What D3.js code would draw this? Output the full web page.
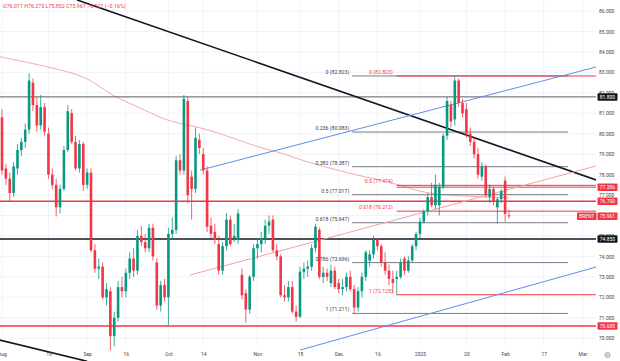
<!DOCTYPE html>
<html>
<head>
<meta charset="utf-8">
<script src="https://cdn.jsdelivr.net/npm/d3@7/dist/d3.min.js"></script>
<style>
  body { margin: 0; background: #fff; }
  svg { display: block; }
  text { font-family: Roboto, "Liberation Sans", sans-serif; }
</style>
</head>
<body>
<svg id="chart" width="620" height="361"></svg>
<script>
// daily candles, one per trading day from 1 Aug 2024: [open, high, low, close]
const candles = [
  // Aug
  [80.8, 81.2, 78.0, 78.2], [78.3, 78.5, 77.5, 77.8], [77.8, 78.1, 76.7, 77.1], [77.1, 78.6, 76.9, 78.4],
  [78.3, 79.5, 78.0, 79.2], [79.2, 79.8, 78.9, 79.6], [79.6, 80.5, 79.3, 80.2], [80.2, 82.95, 80.0, 82.6],
  [82.5, 82.7, 81.1, 81.4], [81.4, 81.8, 80.1, 80.4], [80.4, 81.9, 80.2, 81.3], [81.3, 81.5, 79.9, 80.1],
  [80.0, 80.3, 77.8, 78.0], [78.0, 78.3, 77.3, 77.5], [77.5, 77.8, 75.95, 76.4], [76.4, 77.5, 76.1, 77.3],
  [77.3, 79.4, 77.2, 79.2], [79.2, 81.4, 79.1, 81.1], [81.0, 81.2, 79.5, 79.6], [79.6, 79.9, 78.2, 78.3],
  [78.3, 79.7, 78.1, 79.5], [79.5, 79.6, 77.2, 77.5],
  // Sep
  [77.5, 78.3, 77.3, 78.1], [78.1, 78.3, 74.2, 74.3], [74.3, 74.6, 73.2, 73.4], [73.4, 73.9, 72.9, 73.5],
  [73.5, 73.7, 71.9, 72.0], [72.0, 72.7, 71.6, 72.4], [72.3, 72.5, 69.4, 70.1], [70.1, 71.3, 69.6, 71.0],
  [71.0, 72.8, 70.8, 72.5], [72.5, 73.0, 72.0, 72.3], [72.3, 73.4, 72.0, 73.2], [73.2, 74.2, 72.9, 73.9],
  [73.9, 74.4, 73.0, 73.3], [73.3, 75.3, 73.1, 75.0], [75.0, 75.5, 74.5, 74.7], [74.7, 75.1, 74.2, 74.4],
  [74.4, 75.6, 74.2, 75.4], [75.4, 75.6, 73.8, 74.0], [73.7, 73.9, 71.4, 71.6], [71.6, 72.8, 71.3, 72.6],
  [72.6, 72.9, 71.8, 72.0],
  // Oct
  [72.0, 75.4, 70.65, 75.1], [75.1, 75.9, 74.8, 75.3], [75.3, 78.9, 75.1, 78.7], [78.7, 79.0, 78.0, 78.2],
  [78.2, 81.9, 78.0, 81.7], [81.6, 81.8, 76.6, 77.0], [77.9, 78.2, 75.8, 77.3], [77.3, 80.3, 77.1, 79.8],
  [79.7, 80.0, 79.0, 79.3], [79.0, 79.3, 78.0, 78.2], [78.2, 78.4, 75.2, 75.45], [75.5, 75.9, 74.9, 75.1],
  [75.2, 75.6, 74.6, 74.8], [74.6, 75.0, 73.1, 73.3], [73.3, 74.7, 73.1, 74.5], [74.5, 76.1, 74.3, 75.8],
  [75.8, 76.0, 74.5, 74.6], [74.9, 75.6, 74.7, 75.0], [74.8, 76.3, 74.6, 76.1], [73.1, 73.4, 71.9, 72.1],
  [72.2, 72.4, 70.75, 71.4], [71.4, 73.1, 71.2, 73.0], [73.0, 74.6, 72.8, 74.4],
  // Nov
  [74.4, 74.9, 73.9, 74.6], [74.6, 75.2, 74.2, 74.9], [74.9, 75.8, 74.6, 75.5], [75.5, 76.0, 75.1, 75.7],
  [75.8, 76.0, 74.2, 74.3], [74.3, 74.6, 73.8, 74.0], [74.0, 74.1, 72.0, 72.1], [72.1, 72.6, 71.8, 72.0],
  [72.0, 72.8, 71.8, 72.5], [72.5, 72.8, 71.2, 71.3], [71.3, 71.6, 70.8, 71.05], [71.05, 73.5, 71.0, 73.25],
  [73.25, 73.7, 72.9, 73.4], [73.4, 73.8, 73.0, 73.5], [73.5, 74.6, 73.3, 74.4], [74.4, 75.6, 74.2, 75.45],
  [75.3, 75.4, 72.9, 73.0], [73.0, 73.5, 72.7, 73.2], [73.2, 73.4, 72.8, 73.0], [72.7, 73.6, 72.5, 73.3],
  [73.3, 73.5, 72.4, 72.5],
  // Dec
  [72.7, 72.9, 72.2, 72.4], [72.4, 72.9, 72.1, 72.5], [72.5, 73.2, 72.3, 73.0], [73.0, 73.3, 72.3, 72.4],
  [72.4, 72.6, 71.211, 71.5], [71.5, 72.5, 71.3, 72.3], [72.3, 73.2, 72.0, 73.0], [73.0, 74.3, 72.8, 74.2],
  [73.8, 74.3, 73.5, 74.1], [74.1, 75.0, 73.9, 74.8], [74.8, 74.9, 74.3, 74.5], [74.5, 74.6, 73.5, 73.7],
  [73.7, 74.2, 73.1, 73.3], [73.3, 73.6, 72.6, 72.9], [72.9, 73.3, 72.2, 72.7], [72.9, 73.3, 72.125, 73.0],
  [73.0, 73.9, 72.9, 73.7], [73.9, 74.0, 73.1, 73.3], [73.3, 74.0, 73.2, 73.8], [73.8, 74.6, 73.7, 74.5],
  [74.5, 75.2, 74.3, 75.1],
  // Jan
  [75.1, 75.9, 74.9, 75.7], [75.7, 76.3, 75.6, 76.2], [76.2, 77.1, 76.0, 76.9], [76.9, 77.6, 76.4, 76.5],
  [76.5, 78.0, 76.3, 77.5], [76.5, 77.6, 76.0, 77.4], [77.4, 80.0, 77.3, 79.9], [79.9, 81.8, 79.7, 81.6],
  [81.4, 81.6, 80.3, 80.6], [80.7, 82.823, 80.4, 82.6], [82.6, 82.7, 81.3, 81.5], [81.5, 81.7, 80.8, 81.0],
  [81.2, 81.5, 79.8, 80.0], [80.0, 80.3, 79.4, 79.6], [79.6, 79.8, 78.8, 79.0], [79.0, 79.3, 77.8, 78.0],
  [77.9, 78.6, 77.7, 78.4], [78.4, 78.5, 76.9, 77.0], [76.9, 77.5, 76.6, 77.3], [77.3, 77.4, 76.5, 76.7],
  [76.4, 76.9, 75.6, 76.8], [76.8, 77.3, 76.6, 77.2],
  // Feb
  [77.7, 77.9, 75.7, 76.08], [76.011, 76.273, 75.852, 75.961]
];

// time axis labels: [trading-day index, label]
const timeTicks = [
  [0, "Aug"], [12, "19"], [22, "Sep"], [32, "16"], [43, "Oct"], [52, "14"], [66, "Nov"], [77, "18"],
  [87, "Dec"], [97, "16"], [108, "2025"], [120, "20"], [130, "Feb"], [140, "17"], [150, "Mar"]
];

// fibonacci retracements: [ratio, level]
const grayFib = [[0, 82.823], [0.236, 80.083], [0.382, 78.387], [0.5, 77.017], [0.618, 75.647], [0.786, 73.696], [1, 71.211]];
const redFib = [[0, 82.823], [0.5, 77.474], [0.618, 76.212], [1, 72.125]];
const grayFibSpan = [90.5, 146.3];
const redFibStart = 102;

// horizontal levels
const blackLevels = [81.8, 74.85];
const redLevels = [76.7, 70.6];
const redRayLevel = 77.386;

// trendlines as [index, price] pairs
const trendLines = {
  blackTop: [[19.4, 86.54], [153.5, 77.74]],
  blackBottom: [[-1, 69.93], [22, 68.87]],
  blueUpper: [[51.2, 78.22], [153.5, 83.26]],
  blueLower: [[77, 69.42], [153.5, 73.48]],
  pinkRise: [[48.6, 73.09], [153.5, 78.42]]
};

// moving average: [index, price]
const maPoints = [
  [-1, 83.78], [4.7, 83.56], [15.8, 83.11], [22.2, 82.72], [25.3, 82.28], [29.7, 81.75], [33.9, 81.42],
  [38.2, 81.03], [43.4, 80.57], [51.2, 80.33], [59.7, 79.79], [66.7, 79.3], [72.6, 79.06], [77, 78.71],
  [89.1, 78.08], [97.7, 77.74], [104.7, 77.39], [108.8, 77.1], [118.3, 76.95], [131, 76.86]
];

const header = "O76.011 H76.273 L75.852 C75.961 \u22120.121 (\u22120.16%)";
const lastPrice = 75.961;

const UP = "#089981", DOWN = "#f23645";
const width = 620, height = 361, plotRight = 596;

const svg = d3.select("#chart");

const x = d3.scaleLinear().domain([0, 150]).range([2, 582.5]);
const y = d3.scaleLinear().domain([70, 86]).range([338.2, 11]);

// grid
const grid = svg.append("g");
grid.selectAll("line.v")
  .data(timeTicks)
  .enter().append("line")
  .attr("x1", d => x(d[0])).attr("x2", d => x(d[0]))
  .attr("y1", 0).attr("y2", 346)
  .attr("stroke", "#f0f3fa").attr("stroke-width", 1);
grid.selectAll("line.h")
  .data(y.ticks(16))
  .enter().append("line")
  .attr("x1", 0).attr("x2", plotRight)
  .attr("y1", d => y(d)).attr("y2", d => y(d))
  .attr("stroke", "#f0f3fa").attr("stroke-width", 1);

svg.append("defs").append("clipPath").attr("id", "plot-clip")
  .append("rect").attr("x", 0).attr("y", 0).attr("width", plotRight).attr("height", height);

const plot = svg.append("g").attr("clip-path", "url(#plot-clip)");

// moving average
plot.append("path")
  .datum(maPoints)
  .attr("d", d3.line().x(d => x(d[0])).y(d => y(d[1])).curve(d3.curveBasis))
  .attr("fill", "none").attr("stroke", "#f5a8ae").attr("stroke-width", 1);

// horizontal levels
plot.selectAll("line.black-level")
  .data(blackLevels)
  .enter().append("line")
  .attr("x1", 0).attr("x2", plotRight)
  .attr("y1", d => y(d)).attr("y2", d => y(d))
  .attr("stroke", (d, i) => i === 0 ? "#4a4a4a" : "#131722")
  .attr("stroke-width", (d, i) => i === 0 ? 0.9 : 1.3);

plot.selectAll("line.red-level")
  .data(redLevels)
  .enter().append("line")
  .attr("x1", 0).attr("x2", plotRight)
  .attr("y1", d => y(d)).attr("y2", d => y(d))
  .attr("stroke", DOWN).attr("stroke-width", 1.4);

// gray fib
plot.selectAll("line.gfib")
  .data(grayFib)
  .enter().append("line")
  .attr("x1", x(grayFibSpan[0])).attr("x2", x(grayFibSpan[1]))
  .attr("y1", d => y(d[1])).attr("y2", d => y(d[1]))
  .attr("stroke", "#787b86").attr("stroke-width", 1);

// red fib (extends right)
plot.selectAll("line.rfib")
  .data(redFib)
  .enter().append("line")
  .attr("x1", x(redFibStart)).attr("x2", plotRight)
  .attr("y1", d => y(d[1])).attr("y2", d => y(d[1]))
  .attr("stroke", DOWN).attr("stroke-width", 1);

plot.append("line")
  .attr("x1", x(redFibStart)).attr("x2", plotRight)
  .attr("y1", y(redRayLevel)).attr("y2", y(redRayLevel))
  .attr("stroke", DOWN).attr("stroke-width", 1);

// trendlines
const lineStyle = {
  blackTop: ["#131722", 1.6],
  blackBottom: ["#131722", 1.6],
  blueUpper: ["#5f8fe8", 1],
  blueLower: ["#5f8fe8", 1],
  pinkRise: ["#f5a0a8", 1]
};
Object.keys(trendLines).forEach(k => {
  const [a, b] = trendLines[k];
  plot.append("line")
    .attr("x1", x(a[0])).attr("y1", y(a[1]))
    .attr("x2", x(b[0])).attr("y2", y(b[1]))
    .attr("stroke", lineStyle[k][0]).attr("stroke-width", lineStyle[k][1]);
});

// candles
const bodyW = 2.6;
const cg = plot.selectAll("g.candle")
  .data(candles)
  .enter().append("g");
cg.append("line")
  .attr("x1", (d, i) => x(i)).attr("x2", (d, i) => x(i))
  .attr("y1", d => y(d[1])).attr("y2", d => y(d[2]))
  .attr("stroke", d => d[3] >= d[0] ? UP : DOWN).attr("stroke-width", 0.8);
cg.append("rect")
  .attr("x", (d, i) => x(i) - bodyW / 2)
  .attr("width", bodyW)
  .attr("y", d => y(Math.max(d[0], d[3])))
  .attr("height", d => Math.max(0.8, Math.abs(y(d[0]) - y(d[3]))))
  .attr("fill", d => d[3] >= d[0] ? UP : DOWN);

// fib labels
svg.selectAll("text.gfib")
  .data(grayFib)
  .enter().append("text")
  .attr("x", x(grayFibSpan[0]) - 3)
  .attr("y", d => y(d[1]) - 2)
  .attr("text-anchor", "end")
  .attr("font-size", 5.2)
  .attr("font-family", "'Liberation Serif', serif")
  .attr("fill", "#3a3d47")
  .text(d => `${d[0]} (${d[1].toFixed(3)})`);

svg.selectAll("text.rfib")
  .data(redFib)
  .enter().append("text")
  .attr("x", x(redFibStart) - 4)
  .attr("y", d => y(d[1]) - 2)
  .attr("text-anchor", "end")
  .attr("font-size", 5.2)
  .attr("font-family", "'Liberation Serif', serif")
  .attr("fill", DOWN)
  .text(d => `${d[0]} (${d[1].toFixed(3)})`);

// price axis
const yAxis = d3.axisRight(y)
  .tickValues(y.ticks(16))
  .tickFormat(d3.format(".3f"))
  .tickSize(0).tickPadding(0);
const ya = svg.append("g").attr("transform", "translate(599,0)").call(yAxis);
ya.select(".domain").remove();
ya.selectAll("text").attr("font-size", 5).attr("fill", "#444").attr("font-family", "Roboto, sans-serif");

// time axis
const xAxis = d3.axisBottom(x)
  .tickValues(timeTicks.map(d => d[0]))
  .tickFormat((d, i) => timeTicks[i][1])
  .tickSize(0).tickPadding(0);
const xa = svg.append("g").attr("transform", "translate(0,352)").call(xAxis);
xa.select(".domain").remove();
xa.selectAll("text").attr("font-size", 5).attr("fill", "#444").attr("font-family", "Roboto, sans-serif");

// price labels on the axis
const axisTags = [
  [blackLevels[0], "#131722"], [redRayLevel, DOWN], [redLevels[0], DOWN],
  [lastPrice, DOWN], [blackLevels[1], "#131722"], [redLevels[1], DOWN]
];
const tags = svg.selectAll("g.tag").data(axisTags).enter().append("g");
tags.append("rect")
  .attr("x", 597.5).attr("width", 20).attr("height", 7.5)
  .attr("y", d => y(d[0]) - 3.75)
  .attr("rx", 0.8)
  .attr("fill", d => d[1]);
tags.append("text")
  .attr("x", 607.5).attr("y", d => y(d[0]))
  .attr("dy", "0.35em").attr("text-anchor", "middle")
  .attr("font-size", 5).attr("fill", "#fff")
  .text(d => d3.format(".3f")(d[0]));

// symbol tag
svg.append("rect")
  .attr("x", 577).attr("y", y(lastPrice) - 3.75).attr("width", 19.5).attr("height", 7.5)
  .attr("rx", 0.8).attr("fill", DOWN);
svg.append("text")
  .attr("x", 586.7).attr("y", y(lastPrice)).attr("dy", "0.35em")
  .attr("text-anchor", "middle").attr("font-size", 4.8).attr("fill", "#fff")
  .text("BRENT");

// header
svg.append("text")
  .attr("x", 3).attr("y", 8)
  .attr("font-size", 5.3).attr("fill", DOWN)
  .text(header);

// settings glyph
svg.append("circle").attr("cx", 607.5).attr("cy", 355).attr("r", 2.6)
  .attr("fill", "none").attr("stroke", "#787b86").attr("stroke-width", 0.7);
svg.append("circle").attr("cx", 607.5).attr("cy", 355).attr("r", 0.9)
  .attr("fill", "none").attr("stroke", "#787b86").attr("stroke-width", 0.6);
</script>
</body>
</html>
